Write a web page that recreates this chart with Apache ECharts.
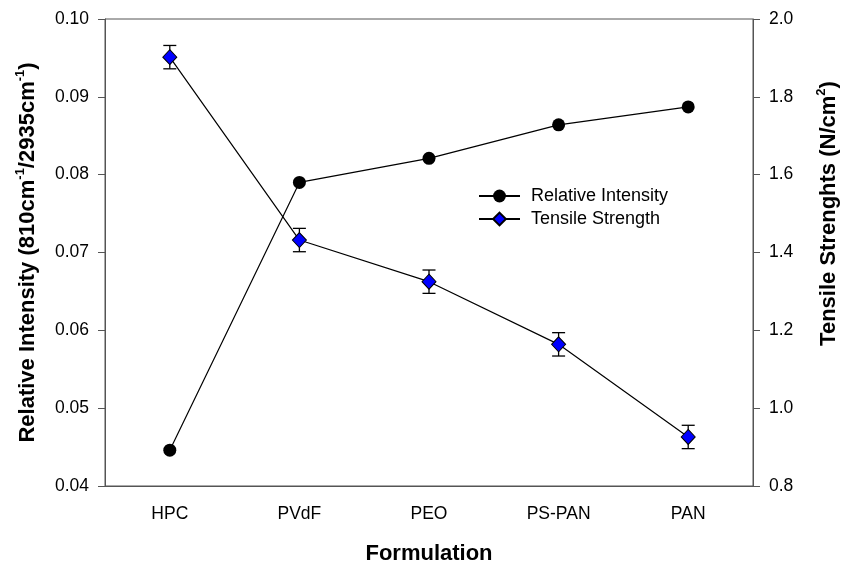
<!DOCTYPE html>
<html>
<head>
<meta charset="utf-8">
<script src="https://cdn.jsdelivr.net/npm/echarts@6/dist/echarts.min.js"></script>
<style>
  html, body { margin: 0; padding: 0; background: #fff; }
  #chart { width: 843px; height: 566px; }
</style>
</head>
<body>
<div id="chart"></div>
<script>
// Formulations on the category axis
var categories = ['HPC', 'PVdF', 'PEO', 'PS-PAN', 'PAN'];
// Relative intensity (810 cm-1 / 2935 cm-1), left axis
var relativeIntensity = [0.0446, 0.0790, 0.0821, 0.0864, 0.0887];
// Tensile strength (N/cm2), right axis, with its error
var tensileStrength = [1.902, 1.432, 1.325, 1.164, 0.926];
var tensileError = [0.03, 0.03, 0.03, 0.03, 0.03];
// Axis tick settings
var leftTicks = { min: 0.04, max: 0.10, step: 0.01 };
var rightTicks = { min: 0.8, max: 2.0, step: 0.2 };

var FONT = "'Liberation Sans', Arial, sans-serif";
var AXIS_COLOR = '#555';
var TICK_FONT = 17.5;

var errorData = tensileStrength.map(function (v, i) {
  return [i, v - tensileError[i], v + tensileError[i]];
});

var chart = echarts.init(document.getElementById('chart'));

var supStyle = { fontSize: 13, fontWeight: 'bold', fontFamily: FONT, color: '#000', verticalAlign: 'top', lineHeight: 27 };
var titleStyle = { fontSize: 22, fontWeight: 'bold', fontFamily: FONT, color: '#000', lineHeight: 27 };

chart.setOption({
  animation: false,
  backgroundColor: '#fff',
  grid: {
    left: 105, right: 90, top: 19, bottom: 80,
    outerBoundsMode: 'none',
    containLabel: false,
    show: true, borderColor: AXIS_COLOR, borderWidth: 1, backgroundColor: 'transparent'
  },
  legend: {
    data: ['Relative Intensity', 'Tensile Strength'],
    orient: 'vertical',
    left: 478, top: 187,
    padding: 0,
    itemWidth: 41, itemHeight: 16, itemGap: 5,
    textStyle: { fontFamily: FONT, fontSize: 18, color: '#000', padding: [0, 0, 0, 6] }
  },
  xAxis: {
    type: 'category',
    data: categories,
    boundaryGap: true,
    name: 'Formulation',
    nameLocation: 'middle',
    nameGap: 57,
    nameTextStyle: { fontFamily: FONT, fontSize: 22, fontWeight: 'bold', color: '#000' },
    axisLine: { lineStyle: { color: AXIS_COLOR, width: 1 } },
    axisTick: { alignWithLabel: true, length: 6, lineStyle: { color: AXIS_COLOR } },
    axisLabel: { fontFamily: FONT, fontSize: TICK_FONT, color: '#000', margin: 19 },
    splitLine: { show: false }
  },
  yAxis: [
    {
      type: 'value',
      position: 'left',
      min: leftTicks.min, max: leftTicks.max, interval: leftTicks.step,
      name: '{t|Relative Intensity (810cm}{s|-1}{t|/2935cm}{s|-1}{t|)}',
      nameLocation: 'middle',
      nameRotate: 90,
      nameGap: 64,
      nameTextStyle: { rich: { t: titleStyle, s: supStyle } },
      axisLine: { show: true, lineStyle: { color: AXIS_COLOR, width: 1 } },
      axisTick: { show: true, length: 7, lineStyle: { color: AXIS_COLOR } },
      axisLabel: {
        fontFamily: FONT, fontSize: TICK_FONT, color: '#000', margin: 16,
        formatter: function (v) { return v.toFixed(2); }
      },
      splitLine: { show: false }
    },
    {
      type: 'value',
      position: 'right',
      min: rightTicks.min, max: rightTicks.max, interval: rightTicks.step,
      name: '{t|Tensile Strenghts (N/cm}{s|2}{t|)}',
      nameLocation: 'middle',
      nameRotate: 90,
      nameGap: 62,
      // title sits above the axis midpoint
      nameTextStyle: { rich: { t: titleStyle, s: supStyle }, padding: [0, 0, 0, 78] },
      axisLine: { show: true, lineStyle: { color: AXIS_COLOR, width: 1 } },
      axisTick: { show: true, length: 7, lineStyle: { color: AXIS_COLOR } },
      axisLabel: {
        fontFamily: FONT, fontSize: TICK_FONT, color: '#000', margin: 16,
        formatter: function (v) { return v.toFixed(1); }
      },
      splitLine: { show: false }
    }
  ],
  series: [
    {
      name: 'Tensile error',
      type: 'custom',
      xAxisIndex: 0,
      yAxisIndex: 1,
      z: 1,
      data: errorData,
      renderItem: function (params, api) {
        var lo = api.coord([api.value(0), api.value(1)]);
        var hi = api.coord([api.value(0), api.value(2)]);
        var w = 6.5;
        var st = { stroke: '#000', lineWidth: 1.3 };
        return {
          type: 'group',
          children: [
            { type: 'line', shape: { x1: lo[0], y1: lo[1], x2: hi[0], y2: hi[1] }, style: st },
            { type: 'line', shape: { x1: lo[0] - w, y1: lo[1], x2: lo[0] + w, y2: lo[1] }, style: st },
            { type: 'line', shape: { x1: hi[0] - w, y1: hi[1], x2: hi[0] + w, y2: hi[1] }, style: st }
          ]
        };
      }
    },
    {
      name: 'Relative Intensity',
      type: 'line',
      yAxisIndex: 0,
      data: relativeIntensity,
      symbol: 'circle',
      symbolSize: 13,
      z: 3,
      lineStyle: { color: '#000', width: 1.2 },
      itemStyle: { color: '#000', borderColor: '#000', borderWidth: 0 }
    },
    {
      name: 'Tensile Strength',
      type: 'line',
      yAxisIndex: 1,
      data: tensileStrength,
      symbol: 'diamond',
      symbolSize: [14, 15],
      z: 3,
      lineStyle: { color: '#000', width: 1.2 },
      itemStyle: { color: '#0000ff', borderColor: '#000', borderWidth: 1 }
    }
  ]
});
</script>
</body>
</html>
